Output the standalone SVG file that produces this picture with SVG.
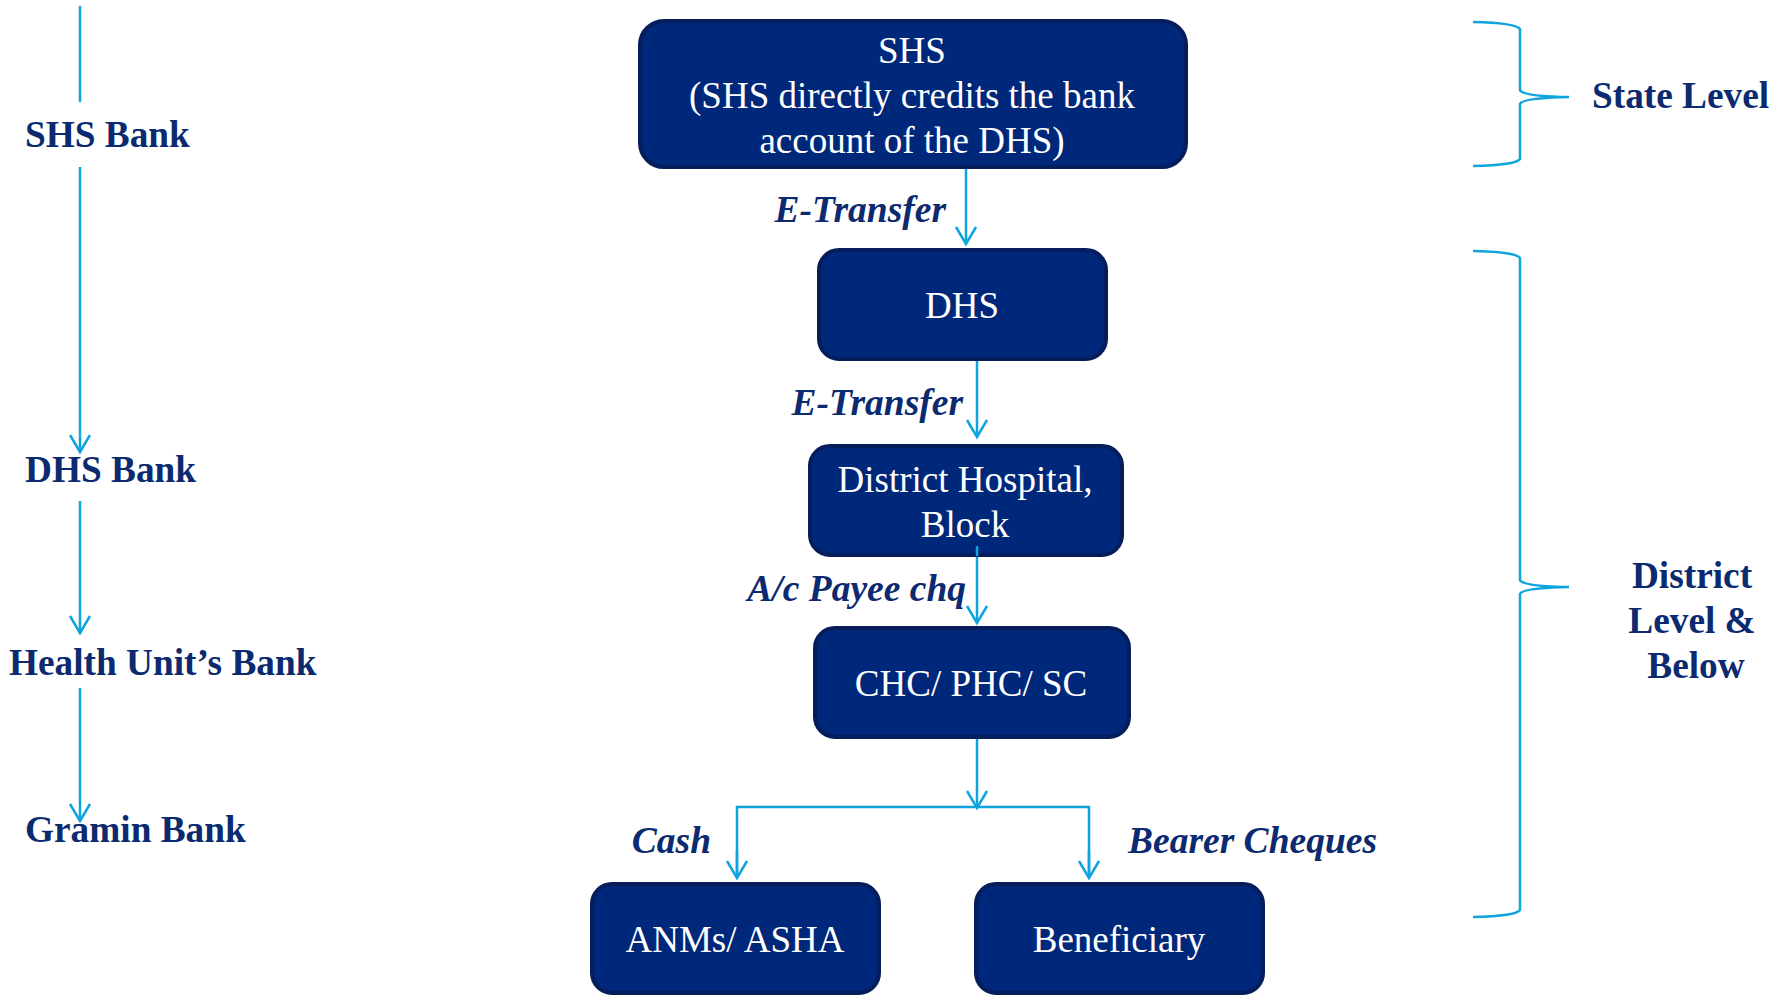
<svg xmlns="http://www.w3.org/2000/svg" width="1777" height="995" viewBox="0 0 1777 995">
<style>
.box{fill:#00287A;stroke:#061D5C;stroke-width:4}
.nt{font-family:"Liberation Serif","Times New Roman",serif;font-size:37px;fill:#FFFFFF;text-anchor:middle}
.lbl{font-family:"Liberation Serif","Times New Roman",serif;font-size:37.5px;font-weight:bold;font-style:italic;fill:#0B2A6F}
.side{font-family:"Liberation Serif","Times New Roman",serif;font-size:37.3px;font-weight:bold;fill:#0B2A6F}
.ln{fill:none;stroke:#0EA5DF;stroke-width:2.5}
</style>
<defs>
<marker id="ah" markerUnits="userSpaceOnUse" markerWidth="40" markerHeight="40" refX="0" refY="0" orient="auto" overflow="visible">
<path d="M-17,-10 L0,0 L-17,10" fill="none" stroke="#0EA5DF" stroke-width="2.5"/>
</marker>
</defs>
<rect width="1777" height="995" fill="#FFFFFF"/>

<g id="connectors">
<line class="ln" x1="966" y1="167" x2="966" y2="244" marker-end="url(#ah)"/>
<line class="ln" x1="977" y1="359" x2="977" y2="437" marker-end="url(#ah)"/>
<line class="ln" x1="977" y1="546" x2="977" y2="623" marker-end="url(#ah)"/>
<line class="ln" x1="977" y1="737" x2="977" y2="808" marker-end="url(#ah)"/>
<polyline class="ln" points="737,878 737,807 1089,807 1089,878"/>
<line class="ln" x1="737" y1="850" x2="737" y2="878" marker-end="url(#ah)"/>
<line class="ln" x1="1089" y1="850" x2="1089" y2="878" marker-end="url(#ah)"/>
<line class="ln" x1="80" y1="6" x2="80" y2="102"/>
<line class="ln" x1="80" y1="167" x2="80" y2="452" marker-end="url(#ah)"/>
<line class="ln" x1="80" y1="501" x2="80" y2="633" marker-end="url(#ah)"/>
<line class="ln" x1="80" y1="688" x2="80" y2="821" marker-end="url(#ah)"/>
<path class="ln" d="M1473,22 Q1516,23 1520,29 L1520,90 Q1522,96 1569,97 Q1522,98 1520,104 L1520,159 Q1516,165 1473,166"/>
<path class="ln" d="M1473,251 Q1516,252 1520,258 L1520,580 Q1522,586 1569,587 Q1522,588 1520,594 L1520,910 Q1516,916 1473,917"/>
</g>

<g id="labels">
<text class="lbl" x="946" y="222" text-anchor="end">E-Transfer</text>
<text class="lbl" x="963" y="415" text-anchor="end">E-Transfer</text>
<text class="lbl" x="966" y="601" text-anchor="end">A/c Payee chq</text>
<text class="lbl" x="711" y="853" text-anchor="end">Cash</text>
<text class="lbl" x="1128" y="853">Bearer Cheques</text>
</g>

<g id="side-labels">
<text class="side" x="25" y="147">SHS Bank</text>
<text class="side" x="25" y="482">DHS Bank</text>
<text class="side" x="9" y="675">Health Unit’s Bank</text>
<text class="side" x="25" y="842">Gramin Bank</text>
<text class="side" x="1592" y="108">State Level</text>
<text class="side" x="1692" y="588" text-anchor="middle">District</text>
<text class="side" x="1692" y="633" text-anchor="middle">Level &amp;</text>
<text class="side" x="1696" y="678" text-anchor="middle">Below</text>
</g>

<g id="node-shs">
<rect class="box" x="640" y="21" width="546" height="146" rx="24"/>
<text class="nt" x="912" y="63">SHS</text>
<text class="nt" x="912" y="108">(SHS directly credits the bank</text>
<text class="nt" x="912" y="153">account of the DHS)</text>
</g>
<g id="node-dhs">
<rect class="box" x="819" y="250" width="287" height="109" rx="20"/>
<text class="nt" x="962" y="318">DHS</text>
</g>
<g id="node-dh">
<rect class="box" x="810" y="446" width="312" height="109" rx="20"/>
<text class="nt" x="965" y="492">District Hospital,</text>
<text class="nt" x="965" y="537">Block</text>
</g>
<g id="node-chc">
<rect class="box" x="815" y="628" width="314" height="109" rx="20"/>
<text class="nt" x="971" y="696">CHC/ PHC/ SC</text>
</g>
<g id="node-anm">
<rect class="box" x="592" y="884" width="287" height="109" rx="20"/>
<text class="nt" x="735" y="952">ANMs/ ASHA</text>
</g>
<g id="node-ben">
<rect class="box" x="976" y="884" width="287" height="109" rx="20"/>
<text class="nt" x="1119" y="952">Beneficiary</text>
</g>
<line class="ln" x1="977" y1="546" x2="977" y2="556"/>
</svg>
